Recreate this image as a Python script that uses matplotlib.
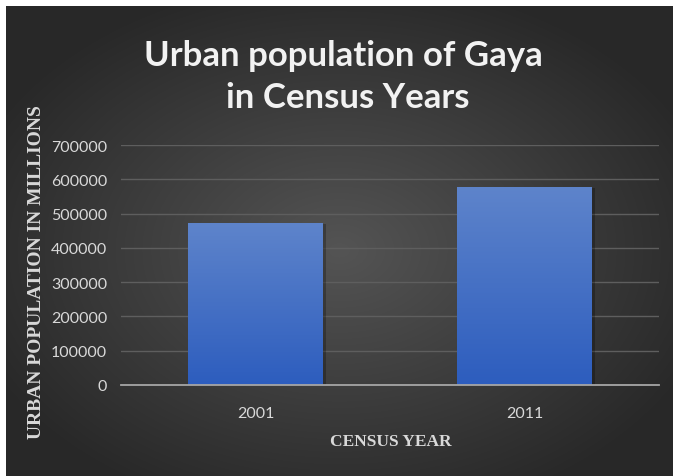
import numpy as np
import matplotlib
matplotlib.use("Agg")
import matplotlib.pyplot as plt
from matplotlib.patches import Rectangle

categories = ["2001", "2011"]
values = [472000, 578000]
yticks = [0, 100000, 200000, 300000, 400000, 500000, 600000, 700000]
title_lines = ["Urban population of Gaya", "in Census Years"]
xlabel = "CENSUS YEAR"
ylabel = "URBAN POPULATION IN MILLIONS"

W, H = 673, 477
fig = plt.figure(figsize=(W / 100, H / 100), dpi=100)
fig.patch.set_facecolor("white")

# background with radial gradient (dark frame inset by white border)
bg = fig.add_axes([6 / W, 0, 1 - 6 / W, 1 - 7 / H])
bg.set_axis_off()
yy, xx = np.mgrid[0:1:300j, 0:1:400j]
r = np.sqrt(((xx - 0.5) / 0.75) ** 2 + ((yy - 0.52) / 0.75) ** 2)
g = np.clip(0.33 - 0.22 * r, 0.16, 0.33)
bgimg = np.dstack([g, g, g])
bg.imshow(bgimg, aspect="auto", extent=[0, 1, 0, 1], interpolation="bicubic")
bg.set_xlim(0, 1)
bg.set_ylim(0, 1)

ax = fig.add_axes([121 / W, 1 - 386 / H, (659 - 121) / W, (386 - 146) / H])
ax.set_facecolor("none")
x = np.arange(len(categories))
bars = ax.bar(x, values, width=0.5, color="#4472c4", zorder=3, linewidth=0)
grad = np.linspace(0, 1, 256).reshape(-1, 1)
top = np.array([0x5e, 0x84, 0xcb]) / 255
bot = np.array([0x2d, 0x5d, 0xbe]) / 255
gimg = (top[None, None, :] * (1 - grad[:, :, None]) + bot[None, None, :] * grad[:, :, None])
for b in bars:
    x0, w, h = b.get_x(), b.get_width(), b.get_height()
    sh = Rectangle((x0 + 0.006, 0), w + 0.006, h - 3000, color="black", alpha=0.25, zorder=2, linewidth=0)
    ax.add_patch(sh)
    im = ax.imshow(gimg, aspect="auto", extent=[x0, x0 + w, 0, h], zorder=4, interpolation="bicubic")
    im.set_clip_path(b)
ax.set_xlim(-0.5, 1.5)
ax.set_ylim(0, 700000)
ax.set_yticks(yticks)
ax.set_yticklabels([str(v) for v in yticks])
ax.set_xticks(x)
ax.set_xticklabels(categories)
ax.grid(axis="y", color="#5e5e5e", linewidth=1, zorder=1)
ax.set_axisbelow(True)
for s in ["top", "right", "left"]:
    ax.spines[s].set_visible(False)
ax.spines["bottom"].set_color("#a6a6a6")
ax.spines["bottom"].set_linewidth(1.3)
ax.spines["bottom"].set_zorder(5)
ax.tick_params(axis="both", length=0, colors="#d9d9d9", labelsize=11.5)
ax.tick_params(axis="y", pad=10)
ax.tick_params(axis="x", pad=15)
for lbl in ax.get_xticklabels() + ax.get_yticklabels():
    lbl.set_fontfamily("Lato")

fig.text(343 / W, 1 - 66 / H, title_lines[0], ha="center", va="baseline",
         fontsize=25, fontweight="bold", color="#f2f2f2", family="Lato")
fig.text(348 / W, 1 - 108 / H, title_lines[1], ha="center", va="baseline",
         fontsize=25, fontweight="bold", color="#f2f2f2", family="Lato")
fig.text(391 / W, 1 - 442 / H, xlabel, ha="center", va="center", fontsize=12.5,
         fontweight="bold", color="#d9d9d9", family="Liberation Serif")
fig.text(37 / W, 1 - 272 / H, ylabel, ha="center", va="center", rotation=90, fontsize=14,
         fontweight="bold", color="#d9d9d9", family="Liberation Serif")

fig.savefig("out.png", dpi=100, facecolor=fig.get_facecolor())
